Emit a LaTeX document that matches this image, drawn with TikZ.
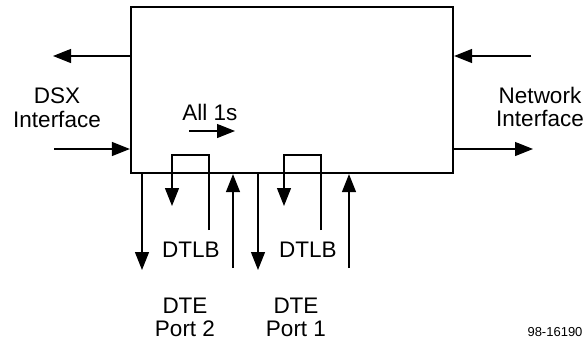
\documentclass[tikz,border=0pt]{standalone}
\usepackage{fontspec}
\setmainfont{Liberation Sans}
\usetikzlibrary{arrows.meta}
\begin{document}
\begin{tikzpicture}[x=1pt,y=-1pt,
  conn/.style={line width=1.1pt,-{Triangle[length=18pt,width=14pt]}},
  lbl/.style={font=\fontsize{22.5}{23}\selectfont, inner sep=0pt, anchor=base},
  small/.style={font=\fontsize{13}{14}\selectfont, inner sep=0pt, anchor=base}]
\useasboundingbox (0,0) rectangle (587,341);
\node[draw, line width=2.2pt, minimum width=322pt, minimum height=166pt, inner sep=0pt] (box) at (292,90) {};
% side coordinates
\coordinate (lA) at (53,56);
\coordinate (lB) at (54,149);
\coordinate (rA) at (531,56);
\coordinate (rB) at (533,149);
\draw[conn] (box.west |- lA) -- (lA);
\draw[conn] (lB) -- (box.west |- lB);
\draw[conn] (rA) -- (box.east |- rA);
\draw[conn] (box.east |- rB) -- (rB);
% All 1s arrow
\coordinate (a1) at (189,131);
\coordinate (a2) at (235,131);
\draw[conn] (a1) -- (a2);
% bottom connectors
\coordinate (d1) at (142,270);
\coordinate (d2) at (258,270);
\coordinate (u1) at (233,268);
\coordinate (u2) at (349,268);
\draw[conn] (box.south -| d1) -- (d1);
\draw[conn] (box.south -| d2) -- (d2);
\draw[conn] (u1) -- (box.south -| u1);
\draw[conn] (u2) -- (box.south -| u2);
% loops
\coordinate (l1e) at (209,230);
\coordinate (l1t) at (172,155);
\coordinate (l1a) at (172,206);
\coordinate (l2e) at (321,230);
\coordinate (l2t) at (284,155);
\coordinate (l2a) at (284,206);
\draw[conn] (l1e) |- (l1t) -- (l1a);
\draw[conn] (l2e) |- (l2t) -- (l2a);
% labels
\node[lbl] (dsx1) at (57,103) {DSX};
\node[lbl] (dsx2) at (57,127) {Interface};
\node[lbl] (net1) at (540,103) {Network};
\node[lbl] (net2) at (540,126) {Interface};
\node[lbl] (all) at (210,120) {All 1s};
\node[lbl] (dtlb1) at (191,257) {DTLB};
\node[lbl] (dtlb2) at (308,257) {DTLB};
\node[lbl] (dte2a) at (185,313) {DTE};
\node[lbl] (dte2b) at (185,336) {Port 2};
\node[lbl] (dte1a) at (296,313) {DTE};
\node[lbl] (dte1b) at (296,336) {Port 1};
\node[small] (fig) at (555,336) {98-16190};
\end{tikzpicture}
\end{document}
